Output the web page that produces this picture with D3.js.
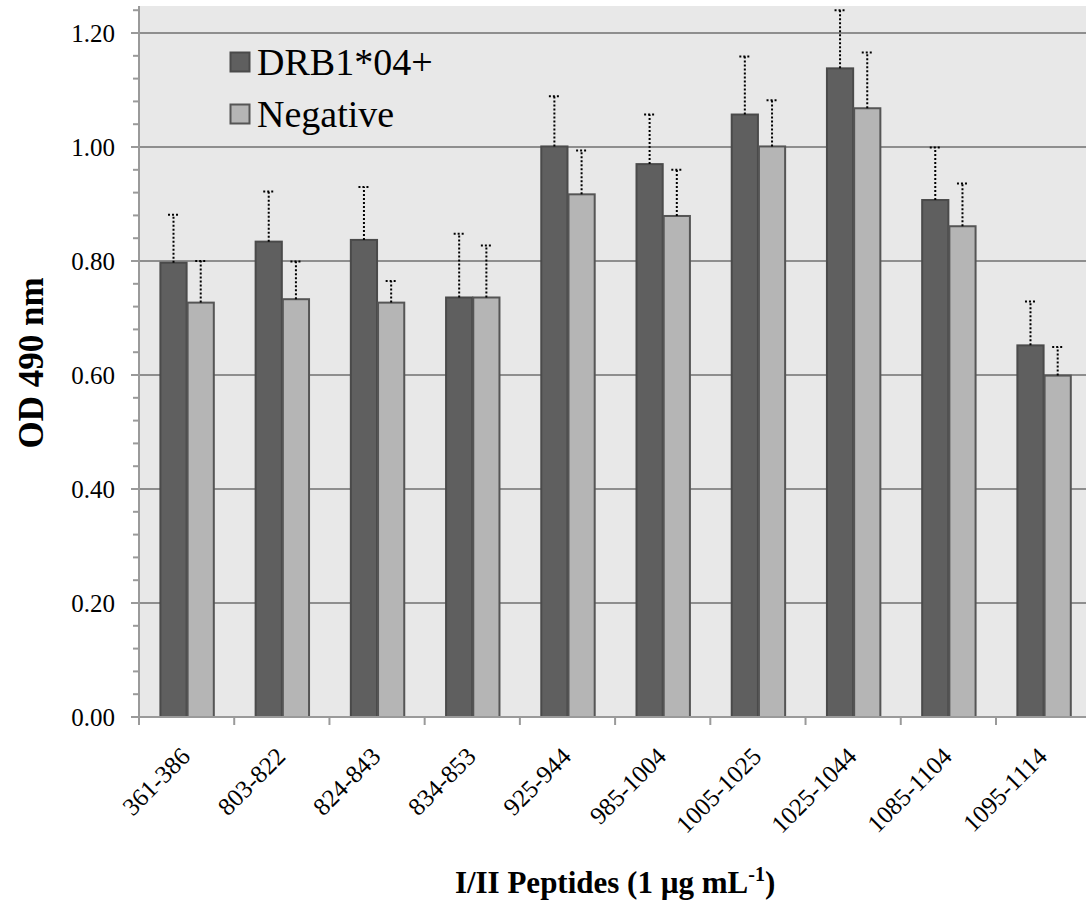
<!DOCTYPE html>
<html><head><meta charset="utf-8">
<script src="https://cdn.jsdelivr.net/npm/d3@7"></script>
<style>
html,body{margin:0;padding:0;background:#fff;}
svg{display:block;}
svg text{font-family:'Liberation Serif','Times New Roman',Times,serif;}
</style></head>
<body>
<svg id="chart" width="1086" height="903"></svg>
<script>
const categories = ["361-386","803-822","824-843","834-853","925-944","985-1004","1005-1025","1025-1044","1085-1104","1095-1114"];
const seriesNames = ["DRB1*04+","Negative"];
const drbValues = [0.797, 0.834, 0.837, 0.736, 1.001, 0.970, 1.057, 1.138, 0.907, 0.652];
const drbErrors = [0.084, 0.088, 0.093, 0.112, 0.088, 0.087, 0.102, 0.102, 0.092, 0.077];
const negValues = [0.727, 0.733, 0.727, 0.736, 0.917, 0.879, 1.001, 1.068, 0.861, 0.599];
const negErrors = [0.073, 0.066, 0.038, 0.091, 0.077, 0.081, 0.081, 0.098, 0.075, 0.050];
const yTicks = [0, 0.2, 0.4, 0.6, 0.8, 1.0, 1.2];
const yMinorTicks = [0.04,0.08,0.12,0.16,0.24,0.28,0.32,0.36,0.44,0.48,0.52,0.56,0.64,0.68,0.72,0.76,0.84,0.88,0.92,0.96,1.04,1.08,1.12,1.16,1.24];

const fills = ["#5f5f5f", "#b5b5b5"];
const strokes = ["#4a4a4a", "#555555"];
const FONT = "'Liberation Serif', 'Times New Roman', Times, serif";

(function () {
const svg = d3.select("#chart").attr("font-family", FONT);
const pLeft = 139, pRight = 1091.2, pTop = 6, pBottom = 717;

const y = d3.scaleLinear().domain([0, 1.2474]).range([pBottom, pTop]);
const x0 = d3.scaleBand().domain(categories).range([pLeft, pRight]).padding(0);
const x1 = d3.scaleBand().domain(seriesNames).range([0, x0.bandwidth()]).paddingInner(0).paddingOuter(0.75);

svg.append("rect").attr("x", pLeft).attr("y", pTop).attr("width", pRight - pLeft).attr("height", pBottom - pTop).attr("fill", "#e8e8e8");

svg.append("g").selectAll("line").data(yTicks.filter(d => d > 0)).join("line")
  .attr("x1", pLeft).attr("x2", pRight)
  .attr("y1", d => y(d)).attr("y2", d => y(d))
  .attr("stroke", "#8e8e8e").attr("stroke-width", 2);

const data = categories.map((c, i) => ({
  cat: c,
  vals: [
    {s: seriesNames[0], v: drbValues[i], e: drbErrors[i], k: 0},
    {s: seriesNames[1], v: negValues[i], e: negErrors[i], k: 1}
  ]
}));

const groups = svg.append("g").selectAll("g").data(data).join("g")
  .attr("transform", d => `translate(${x0(d.cat)},0)`);

groups.selectAll("rect").data(d => d.vals).join("rect")
  .attr("x", d => x1(d.s) + 1)
  .attr("y", d => y(d.v))
  .attr("width", x1.bandwidth() - 1)
  .attr("height", d => y(0) - y(d.v))
  .attr("fill", d => fills[d.k])
  .attr("stroke", d => strokes[d.k])
  .attr("stroke-width", 2);

const eb = groups.selectAll("g.err").data(d => d.vals).join("g").attr("class", "err");
eb.append("line")
  .attr("x1", d => x1(d.s) + x1.bandwidth() / 2 + 0.5)
  .attr("x2", d => x1(d.s) + x1.bandwidth() / 2 + 0.5)
  .attr("y1", d => y(d.v))
  .attr("y2", d => y(d.v + d.e))
  .attr("stroke", "#000").attr("stroke-width", 2).attr("stroke-dasharray", "2,2");
eb.append("line")
  .attr("x1", d => x1(d.s) + x1.bandwidth() / 2 + 0.5 - 5.5)
  .attr("x2", d => x1(d.s) + x1.bandwidth() / 2 + 0.5 + 5.5)
  .attr("y1", d => y(d.v + d.e))
  .attr("y2", d => y(d.v + d.e))
  .attr("stroke", "#000").attr("stroke-width", 2).attr("stroke-dasharray", "2,2");

const yAxisG = svg.append("g");
yAxisG.append("line").attr("x1", pLeft).attr("x2", pLeft).attr("y1", pTop).attr("y2", pBottom + 1)
  .attr("stroke", "#9a9a9a").attr("stroke-width", 2);
yAxisG.selectAll("line.minor").data(yMinorTicks).join("line").attr("class", "minor")
  .attr("x1", 133).attr("x2", pLeft).attr("y1", d => y(d)).attr("y2", d => y(d))
  .attr("stroke", "#9a9a9a").attr("stroke-width", 2);
yAxisG.selectAll("line.major").data(yTicks).join("line").attr("class", "major")
  .attr("x1", 131).attr("x2", pLeft).attr("y1", d => y(d)).attr("y2", d => y(d))
  .attr("stroke", "#9a9a9a").attr("stroke-width", 2);
yAxisG.selectAll("text").data(yTicks).join("text")
  .attr("x", 115).attr("y", d => y(d)).attr("dy", "0.35em")
  .attr("font-family", FONT)
  .attr("text-anchor", "end").attr("font-size", 25).attr("fill", "#000")
  .text(d => d3.format(".2f")(d));

const xAxisG = svg.append("g");
xAxisG.append("line").attr("x1", pLeft).attr("x2", pRight).attr("y1", pBottom).attr("y2", pBottom)
  .attr("stroke", "#9a9a9a").attr("stroke-width", 2);
xAxisG.selectAll("line.tick").data(categories.map(c => x0(c)).concat([pRight])).join("line").attr("class", "tick")
  .attr("x1", d => d).attr("x2", d => d).attr("y1", pBottom).attr("y2", pBottom + 8)
  .attr("stroke", "#9a9a9a").attr("stroke-width", 2);
xAxisG.selectAll("text").data(categories).join("text")
  .attr("transform", d => `translate(${x0(d) + x0.bandwidth() / 2 + 5},758) rotate(-45)`)
  .attr("font-family", FONT)
  .attr("text-anchor", "end").attr("font-size", 25).attr("fill", "#000")
  .text(d => d);

svg.append("text")
  .attr("transform", `translate(43,363) rotate(-90)`)
  .attr("font-family", FONT)
  .attr("text-anchor", "middle").attr("font-size", 35).attr("font-weight", "bold")
  .text("OD 490 nm");

const xt = svg.append("text")
  .attr("x", (pLeft + pRight) / 2).attr("y", 893)
  .attr("font-family", FONT)
  .attr("text-anchor", "middle").attr("font-size", 31).attr("font-weight", "bold");
xt.append("tspan").text("I/II Peptides (1 µg mL");
xt.append("tspan").attr("font-size", 20).attr("dy", -12).text("-1");
xt.append("tspan").attr("dy", 12).text(")");

const legend = svg.append("g");
seriesNames.forEach((s, i) => {
  const ly = 62 + i * 52;
  legend.append("rect").attr("x", 230.5).attr("y", ly - 9.5).attr("width", 19).attr("height", 19)
    .attr("fill", fills[i]).attr("stroke", strokes[i]).attr("stroke-width", 2);
  legend.append("text").attr("x", 257).attr("y", ly + 13).attr("font-family", FONT)
    .attr("font-size", 38).attr("fill", "#000").text(s);
});
})();
</script>
</body></html>
